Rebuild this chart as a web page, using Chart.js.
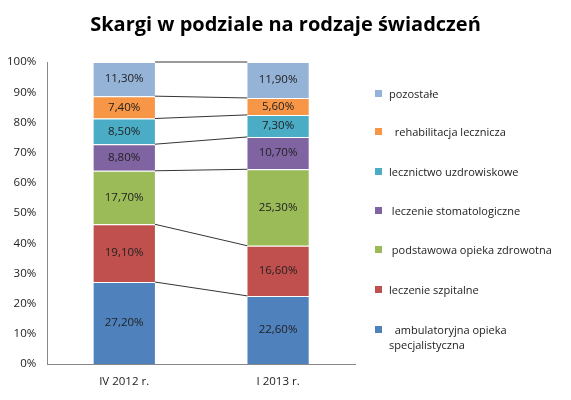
<!DOCTYPE html>
<html><head><meta charset="utf-8">
<script src="https://cdn.jsdelivr.net/npm/chart.js@4"></script>
<style>
body{margin:0;background:#fff;font-family:"Open Sans",sans-serif;}
#wrap{position:absolute;left:0;top:0;width:571px;height:400px;}
#title{position:absolute;left:0;top:10px;width:571px;text-align:center;font-size:20px;font-weight:bold;color:#000;}
#legend{position:absolute;left:375px;top:0;font-size:11px;color:#222;}
.li{position:absolute;left:0;width:190px;}
.sw{position:absolute;left:0;top:4px;width:7px;height:7px;}
.tx{position:absolute;left:14px;top:0;line-height:15px;white-space:nowrap;}
</style></head><body>
<div id="wrap"><canvas id="c" width="571" height="400"></canvas></div>
<div id="title">Skargi w podziale na rodzaje świadczeń</div>
<div id="legend"></div>
<script>
const categories=["IV 2012 r.","I 2013 r."];
const seriesNames=["ambulatoryjna opieka specjalistyczna","leczenie szpitalne","podstawowa opieka zdrowotna","leczenie stomatologiczne","lecznictwo uzdrowiskowe","rehabilitacja lecznicza","pozostałe"];
const ambulatoryjna=[27.2,22.6];
const szpitalne=[19.1,16.6];
const podstawowa=[17.7,25.3];
const stomatologiczne=[8.8,10.7];
const uzdrowiskowe=[8.5,7.3];
const rehabilitacja=[7.4,5.6];
const pozostale=[11.3,11.9];
const values=[ambulatoryjna,szpitalne,podstawowa,stomatologiczne,uzdrowiskowe,rehabilitacja,pozostale];
const colors=["#4F81BD","#C0504D","#9BBB59","#8064A2","#4BACC6","#F79646","#95B3D7"];
const legendY=[322,282,242,203,164,124,86];

const lg=document.getElementById('legend');
seriesNames.forEach((n,i)=>{
  const d=document.createElement('div');d.className='li';d.style.top=legendY[i]+'px';
  let label=n;
  if(i===0) label='&nbsp;&nbsp;ambulatoryjna opieka<br>specjalistyczna';
  if(i===5) label='&nbsp;&nbsp;rehabilitacja lecznicza';
  if(i===2) label='&nbsp;podstawowa opieka zdrowotna';
  if(i===3) label='&nbsp;leczenie stomatologiczne';
  d.innerHTML='<div class="sw" style="background:'+colors[i]+'"></div><div class="tx">'+label+'</div>';
  lg.appendChild(d);
});

const connect={id:'connect',afterDatasetsDraw(chart){
  const ctx=chart.ctx;ctx.save();ctx.strokeStyle='#000';ctx.lineWidth=0.8;
  chart.data.datasets.forEach((ds,i)=>{
    const m=chart.getDatasetMeta(i).data;
    const a=m[0],b=m[1];
    ctx.beginPath();ctx.moveTo(a.x+a.width/2,a.y);ctx.lineTo(b.x-b.width/2,b.y);ctx.stroke();
  });
  ctx.font='11.5px "Open Sans"';ctx.fillStyle='#222';ctx.textAlign='center';ctx.textBaseline='middle';
  chart.data.datasets.forEach((ds,i)=>{
    chart.getDatasetMeta(i).data.forEach((el,j)=>{
      ctx.fillText(ds.data[j].toFixed(2).replace('.',',')+'%',el.x,(el.y+el.base)/2);
    });
  });
  ctx.restore();
}};

new Chart(document.getElementById('c'),{
  type:'bar',
  data:{labels:categories,datasets:values.map((v,i)=>({label:seriesNames[i],data:v,backgroundColor:colors[i],borderColor:'#fff',borderWidth:{top:1},barPercentage:0.4,categoryPercentage:1}))},
  options:{responsive:false,animation:false,
    layout:{padding:{left:4,right:216,top:62,bottom:8}},
    plugins:{legend:{display:false},tooltip:{enabled:false},title:{display:false}},
    scales:{
      x:{stacked:true,grid:{display:false},border:{color:'#888'},ticks:{color:'#222',font:{family:'Open Sans',size:11.5}}},
      y:{stacked:true,min:0,max:100,grid:{display:false},border:{color:'#888'},
        ticks:{stepSize:10,color:'#222',font:{family:'Open Sans',size:11.5},callback:v=>v+'%'}}
    }}
  ,plugins:[connect]});
</script></body></html>
